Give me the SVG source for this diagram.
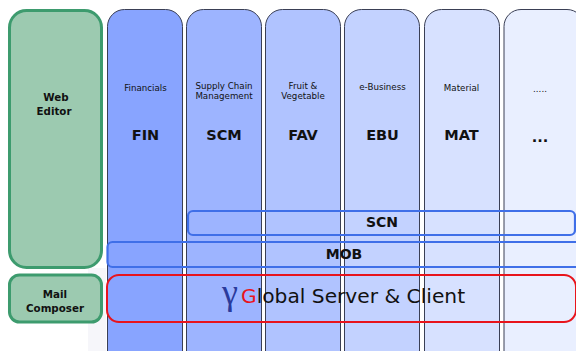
<svg xmlns="http://www.w3.org/2000/svg" width="576" height="351" viewBox="0 0 576 351">
<style>
text{font-family:"DejaVu Sans","Liberation Sans",sans-serif;text-anchor:middle;fill:#111}
.col{stroke:#3a3f55;stroke-width:1}
.green{fill:#9ccab0;stroke:#3d9b6e;stroke-width:3}
.s{font-size:8.700px}
.c{font-size:14.500px;font-weight:bold}
.g{font-size:10.300px;font-weight:bold}
.b{fill:none;stroke:#3f6fe8;stroke-width:2.2}
.m{font-size:14px;font-weight:bold}
</style>
<rect width="576" height="351" fill="#fff"/>
<rect x="88" y="268" width="18" height="83" fill="#f6f6fa"/>
<g id="fin"><rect class="col" x="107.5" y="9.5" width="75" height="360" rx="17" fill="#88a4ff"/>
<text class="s" x="145.500" y="90.500">Financials</text><text class="c" x="145.500" y="140">FIN</text></g>
<g id="scm"><rect class="col" x="186.500" y="9.5" width="75" height="360" rx="17" fill="#9db4ff"/>
<text class="s" x="224" y="88.500">Supply Chain</text><text class="s" x="224" y="98.500">Management</text><text class="c" x="224" y="140">SCM</text></g>
<g id="fav"><rect class="col" x="265.500" y="9.5" width="75" height="360" rx="17" fill="#b0c3ff"/>
<text class="s" x="303" y="88.500">Fruit &amp;</text><text class="s" x="303" y="98.500">Vegetable</text><text class="c" x="303" y="140">FAV</text></g>
<g id="ebu"><rect class="col" x="344.500" y="9.5" width="75" height="360" rx="17" fill="#c3d2ff"/>
<text class="s" x="382.500" y="90">e-Business</text><text class="c" x="382.500" y="140">EBU</text></g>
<g id="mat"><rect class="col" x="424.500" y="9.5" width="75" height="360" rx="17" fill="#d7e1ff"/>
<text class="s" x="461.500" y="90.500">Material</text><text class="c" x="461.500" y="140">MAT</text></g>
<g id="etc"><rect class="col" x="504" y="9.5" width="80" height="360" rx="17" fill="#e9efff"/>
<text class="s" x="540" y="92">.....</text><text class="c" x="540" y="142">...</text></g>
<g id="web"><rect class="green" x="9.500" y="10.500" width="92" height="257" rx="17"/>
<text class="g" x="56" y="101">Web</text><text class="g" x="54" y="115">Editor</text></g>
<g id="mail"><rect class="green" x="9.500" y="275" width="92" height="47" rx="10"/>
<text class="g" x="55" y="298">Mail</text><text class="g" x="55" y="312">Composer</text></g>
<g id="connectors"></g>
<g id="scn"><rect class="b" x="188" y="211" width="387" height="24" rx="5"/><text class="m" x="382" y="227">SCN</text></g>
<g id="mob"><rect class="b" x="107.500" y="242" width="480" height="25" rx="5"/><text class="m" x="344" y="259">MOB</text></g>
<g id="gsc"><rect x="107" y="275" width="469" height="47" rx="12" fill="none" stroke="#e8141c" stroke-width="2"/>
<text x="230" y="304" style="font-family:'Liberation Serif',serif;font-size:36px;fill:#2a3a9c">γ</text>
<text x="241" y="303" style="font-size:20.200px;text-anchor:start"><tspan style="fill:#e8141c">G</tspan>lobal Server &amp; Client</text></g>
</svg>
